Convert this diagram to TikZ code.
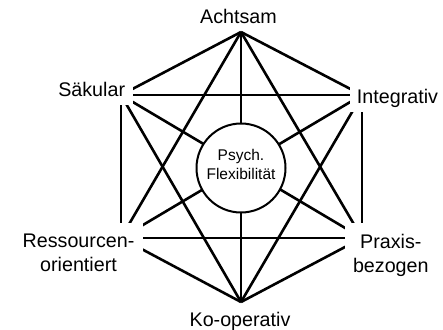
\documentclass[tikz,border=0pt]{standalone}
\usepackage{fontspec}
\setmainfont{Liberation Sans}
\begin{document}
\begin{tikzpicture}[x=1pt,y=-1pt,
  edge/.style={line width=2.6pt},
  lbl/.style={fill=white, font=\fontsize{19.7}{24}\selectfont, align=center},
  hub/.style={circle, draw, line width=2pt, fill=white, minimum size=89pt, inner sep=0pt}]
\useasboundingbox (0,0) rectangle (443,329);
\coordinate (A) at (241,32);
\coordinate (S) at (121,95);
\coordinate (I) at (362,95);
\coordinate (R) at (121,238);
\coordinate (P) at (362,238);
\coordinate (K) at (241,302);
\foreach \a/\b in {A/S,A/I,A/R,A/P,A/K,S/I,S/R,S/P,S/K,I/R,I/P,I/K,R/P,R/K,P/K}
  \draw[edge] (\a) -- (\b);
\node[hub] (C) at (241,168) {};
\node[font=\fontsize{15.5}{19.5}\selectfont, align=center] (Ct) at (241,164.7) {Psych.\\Flexibilität};
\node[lbl, anchor=base, inner sep=2pt] (tA) at (238.5,23.3) {Achtsam};
\node[lbl, anchor=base, inner xsep=8pt, inner ysep=8pt] (tS) at (91.7,96.7) {Säkular};
\node[lbl, anchor=base, inner xsep=7pt, inner ysep=4.6pt] (tI) at (397.5,103.3) {Integrativ};
\node[lbl, anchor=center, inner xsep=8.7pt, inner ysep=11.5pt] (tR) at (78.5,253) {Ressourcen-\\orientiert};
\node[lbl, anchor=center, inner xsep=8pt, inner ysep=11.2pt] (tP) at (390.8,255) {Praxis-\\bezogen};
\node[lbl, anchor=base, inner sep=2pt] (tK) at (240,326) {Ko-operativ};
\end{tikzpicture}
\end{document}
